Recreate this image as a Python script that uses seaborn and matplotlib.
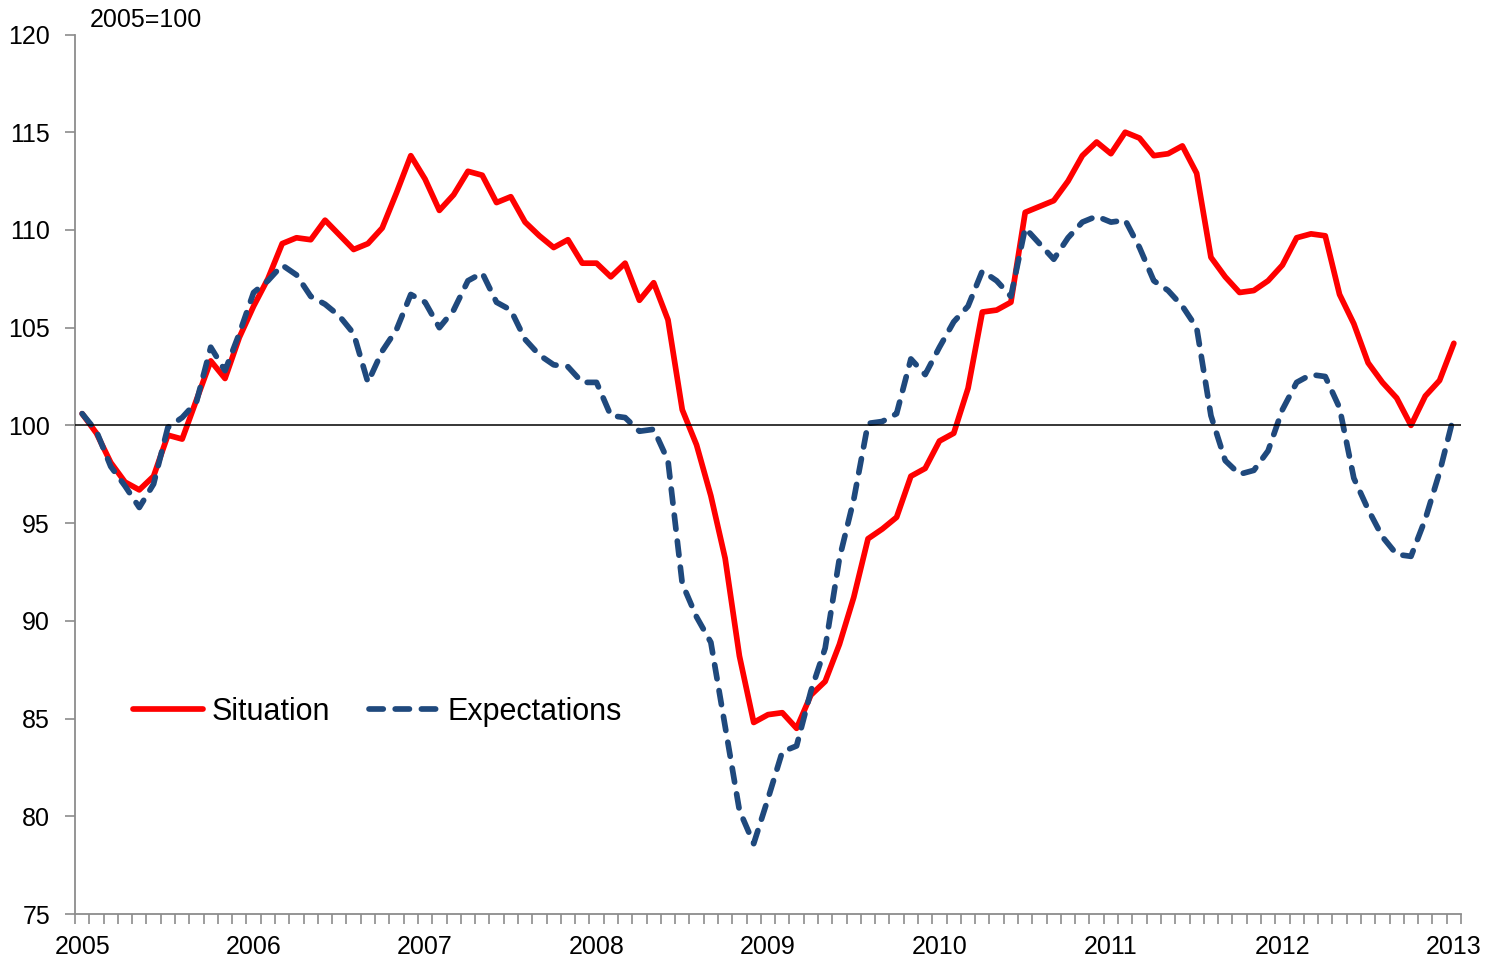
import matplotlib
matplotlib.use("Agg")
import matplotlib.pyplot as plt
import numpy as np
import pandas as pd
import seaborn as sns

# monthly index values, Jan 2005 .. Jan 2013 (2005=100)
situation = [
    100.6, 99.6, 98.1, 97.1, 96.7, 97.4, 99.5, 99.3, 101.3, 103.3, 102.4, 104.5,      # 2005
    106.1, 107.5, 109.3, 109.6, 109.5, 110.5, 109.75, 109.0, 109.3, 110.1, 111.9, 113.8,  # 2006
    112.6, 111.0, 111.8, 113.0, 112.8, 111.4, 111.7, 110.4, 109.7, 109.1, 109.5, 108.3,  # 2007
    108.3, 107.6, 108.3, 106.4, 107.3, 105.4, 100.8, 99.0, 96.4, 93.2, 88.2, 84.8,     # 2008
    85.2, 85.3, 84.5, 86.2, 86.9, 88.8, 91.2, 94.2, 94.7, 95.3, 97.4, 97.8,            # 2009
    99.2, 99.6, 101.9, 105.8, 105.9, 106.3, 110.9, 111.2, 111.5, 112.5, 113.8, 114.5,  # 2010
    113.9, 115.0, 114.7, 113.8, 113.9, 114.3, 112.9, 108.6, 107.6, 106.8, 106.9, 107.4,  # 2011
    108.2, 109.6, 109.8, 109.7, 106.7, 105.2, 103.2, 102.2, 101.4, 100.0, 101.5, 102.3,  # 2012
    104.2,                                                                             # 2013
]
expectations = [
    100.6, 99.7, 97.9, 96.9, 95.8, 97.0, 99.9, 100.4, 101.2, 104.0, 102.8, 104.7,
    106.8, 107.4, 108.2, 107.7, 106.6, 106.2, 105.6, 104.7, 102.2, 103.8, 104.9, 106.7,
    106.3, 105.0, 105.9, 107.4, 107.8, 106.3, 105.9, 104.4, 103.6, 103.1, 103.0, 102.2,
    102.2, 100.5, 100.4, 99.7, 99.8, 98.2, 91.9, 90.2, 88.9, 84.6, 80.3, 78.6,
    80.9, 83.3, 83.6, 86.4, 88.6, 93.2, 96.2, 100.1, 100.2, 100.6, 103.4, 102.6,
    104.0, 105.3, 106.1, 107.9, 107.4, 106.6, 110.1, 109.3, 108.5, 109.6, 110.4, 110.7,
    110.4, 110.5, 109.1, 107.4, 106.9, 106.1, 105.0, 100.5, 98.2, 97.5, 97.7, 98.7,
    100.8, 102.2, 102.6, 102.5, 100.9, 97.3, 95.7, 94.3, 93.4, 93.3, 95.2, 97.6,
    100.5,
]
year_labels = ["2005", "2006", "2007", "2008", "2009", "2010", "2011", "2012", "2013"]
series_names = ["Situation", "Expectations"]
y_ticks = [75, 80, 85, 90, 95, 100, 105, 110, 115, 120]

colors = {"Situation": "#FF0000", "Expectations": "#1F497D"}

df = pd.DataFrame({
    "month": np.arange(len(situation)),
    "Situation": situation,
    "Expectations": expectations,
})
long = df.melt(id_vars="month", var_name="series", value_name="value")

sns.set_theme(style="white")
plt.rcParams["font.family"] = ["Liberation Sans", "DejaVu Sans"]
plt.rcParams["text.color"] = "black"

fig = plt.figure(figsize=(15.05, 9.6), dpi=100)
ax = fig.add_axes([75 / 1505, 1 - 914 / 960, (1461 - 75) / 1505, (914 - 34.5) / 960])

sns.lineplot(
    data=long, x="month", y="value",
    hue="series", style="series",
    hue_order=series_names, style_order=series_names,
    palette=colors,
    dashes={"Situation": "", "Expectations": (2.5, 2.1)},
    linewidth=4.1, dash_capstyle="round",
    legend=False, ax=ax,
)
lines = list(ax.lines[:2])

ax.axhline(100, color="black", lw=1.1, zorder=5)

# axes
ax.set_xlim(-0.5, len(situation) - 0.5)
ax.set_ylim(75, 120)
ax.set_yticks(y_ticks)
ax.set_yticklabels([str(v) for v in y_ticks])
ax.set_xticks(np.arange(0, len(situation), 12))
ax.set_xticklabels(year_labels)
ax.set_xticks(np.arange(-0.5, len(situation), 1), minor=True)
ax.set_xlabel("")
ax.set_ylabel("")

grey = "#8C8C8C"
ax.tick_params(axis="x", which="major", length=0, pad=15, labelsize=18, labelcolor="black")
ax.tick_params(axis="x", which="minor", length=7, width=1.2, color=grey, direction="out", bottom=True)
ax.tick_params(axis="y", which="major", length=7, width=1.2, color=grey, direction="out",
               left=True, pad=11, labelsize=18, labelcolor="black")
for side in ["top", "right"]:
    ax.spines[side].set_visible(False)
for side in ["left", "bottom"]:
    ax.spines[side].set_color(grey)
    ax.spines[side].set_linewidth(1.3)

leg = ax.legend(lines, series_names, loc="center left", bbox_to_anchor=(0.042, 0.23),
                frameon=False, ncol=2, fontsize=22, handlelength=2.3, handletextpad=0.25,
                columnspacing=1.3, borderaxespad=0, borderpad=0)
for t in leg.get_texts():
    t.set_color("black")

fig.text(90 / 1505, 1 - 20 / 960, "2005=100", fontsize=18, color="black", ha="left", va="center")

fig.savefig("out.png", dpi=100)
